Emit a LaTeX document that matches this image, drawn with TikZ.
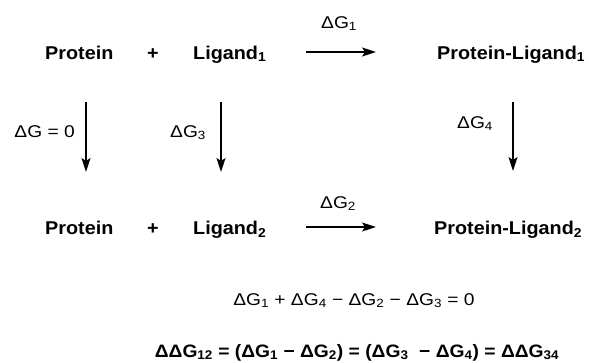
\documentclass[tikz,border=0pt]{standalone}
\usepackage{fontspec}
\setmainfont{Liberation Sans}
\newfontfamily\spfont[FakeStretch=1.07]{Liberation Sans}
\newfontfamily\lbfont[FakeStretch=1.13]{Liberation Sans}
\usetikzlibrary{arrows.meta}

\begin{document}
\begin{tikzpicture}[x=1pt,y=-1pt,
  >={Stealth[length=14pt,width=9pt,inset=3pt]},
  sp/.style={font=\spfont\fontsize{18.5}{22}\selectfont\bfseries,inner sep=0pt,anchor=base west},
  lb/.style={font=\lbfont\fontsize{17}{20}\selectfont,inner sep=0pt,anchor=base west},
  rx/.style={->,line width=1.4pt}]
  \useasboundingbox (0,0) rectangle (589,362);

  % species
  \node[sp] (p1) at (45,59) {Protein};
  \node[sp,anchor=base] (plus1) at (153,59) {+};
  \node[sp] (l1) at (193,59) {Ligand\textsubscript{1}};
  \node[sp] (pl1) at (437,59) {Protein-Ligand\textsubscript{1}};
  \node[sp] (p2) at (45,234) {Protein};
  \node[sp,anchor=base] (plus2) at (153,234) {+};
  \node[sp] (l2) at (193,234) {Ligand\textsubscript{2}};
  \node[sp] (pl2) at (434,234) {Protein-Ligand\textsubscript{2}};

  % arrow ends
  \coordinate (h1a) at (306,52);  \coordinate (h1b) at (376,52);
  \coordinate (h2a) at (306,227); \coordinate (h2b) at (376,227);
  \coordinate (v1a) at (86,102);  \coordinate (v1b) at (86,172);
  \coordinate (v2a) at (221,102); \coordinate (v2b) at (221,172);
  \coordinate (v3a) at (513,102); \coordinate (v3b) at (513,171);

  \draw[rx] (h1a) -- (h1b);
  \draw[rx] (h2a) -- (h2b);
  \draw[rx] (v1a) -- (v1b);
  \draw[rx] (v2a) -- (v2b);
  \draw[rx] (v3a) -- (v3b);

  \node[lb] (g1) at (321,28) {ΔG\textsubscript{1}};
  \node[lb] (g2) at (320,208) {ΔG\textsubscript{2}};
  \node[lb,anchor=base east] (g0) at (75,137) {ΔG = 0};
  \node[lb] (g3) at (170,137) {ΔG\textsubscript{3}};
  \node[lb] (g4) at (457,128) {ΔG\textsubscript{4}};

  % cycle
  \node[lb,anchor=base] (sum) at (354,305)
    {ΔG\textsubscript{1} + ΔG\textsubscript{4} − ΔG\textsubscript{2} − ΔG\textsubscript{3} = 0};
  \node[sp,anchor=base,font=\spfont\fontsize{18}{22}\selectfont\bfseries] (ddg) at (357,357)
    {ΔΔG\textsubscript{12} = (ΔG\textsubscript{1} − ΔG\textsubscript{2}) = (ΔG\textsubscript{3} \ − ΔG\textsubscript{4}) = ΔΔG\textsubscript{34}};
\end{tikzpicture}
\end{document}
